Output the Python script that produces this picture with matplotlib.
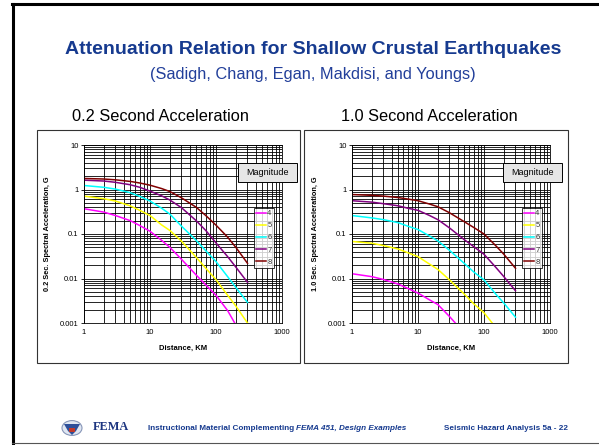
import numpy as np
import matplotlib
matplotlib.use("Agg")
import matplotlib.pyplot as plt
from matplotlib.patches import Rectangle, Circle, Polygon
from matplotlib.lines import Line2D
from matplotlib.ticker import LogLocator, FuncFormatter, NullFormatter

plt.rcParams['font.family'] = ['Liberation Sans', 'DejaVu Sans']

W, H = 599, 445

# distances (km) and spectral accelerations (g) per magnitude
distance = [1, 2, 3, 5, 7, 10, 15, 20, 30, 50, 70, 100, 150, 200, 300]
magnitudes = ['4', '5', '6', '7', '8']
colors = ['#ff00ff', '#ffff00', '#00ffff', '#800080', '#800000']

sa_02 = {
    '4': [0.37, 0.31, 0.26, 0.20, 0.155, 0.115, 0.072, 0.05, 0.027, 0.012, 0.0072, 0.0042, 0.0019, 0.0009, np.nan],
    '5': [0.71, 0.62, 0.55, 0.43, 0.34, 0.26, 0.16, 0.12, 0.069, 0.030, 0.017, 0.0094, 0.0042, 0.0024, 0.001],
    '6': [1.23, 1.12, 1.02, 0.85, 0.70, 0.55, 0.38, 0.28, 0.15, 0.072, 0.042, 0.024, 0.011, 0.0063, 0.0029],
    '7': [1.62, 1.55, 1.45, 1.28, 1.12, 0.92, 0.72, 0.58, 0.39, 0.20, 0.12, 0.063, 0.031, 0.018, 0.0082],
    '8': [1.77, 1.72, 1.65, 1.52, 1.40, 1.25, 1.05, 0.90, 0.65, 0.40, 0.26, 0.158, 0.085, 0.050, 0.022],
}
sa_10 = {
    '4': [0.0128, 0.011, 0.0095, 0.0075, 0.006, 0.0047, 0.0033, 0.0026, 0.0014, 0.0006, np.nan, np.nan, np.nan, np.nan, np.nan],
    '5': [0.068, 0.062, 0.055, 0.046, 0.038, 0.031, 0.021, 0.016, 0.0093, 0.0045, 0.0027, 0.0017, 0.0008, np.nan, np.nan],
    '6': [0.26, 0.23, 0.21, 0.18, 0.15, 0.126, 0.09, 0.07, 0.043, 0.022, 0.014, 0.0093, 0.0045, 0.0028, 0.00135],
    '7': [0.56, 0.52, 0.48, 0.43, 0.38, 0.34, 0.26, 0.21, 0.137, 0.075, 0.052, 0.035, 0.018, 0.011, 0.0053],
    '8': [0.77, 0.74, 0.71, 0.66, 0.61, 0.56, 0.47, 0.41, 0.30, 0.19, 0.14, 0.10, 0.055, 0.035, 0.017],
}


def px_rect(x0, y0, x1, y1):
    """ Pixel box (top-left origin) to figure fraction rect. """
    return [x0 / W, 1 - y1 / H, (x1 - x0) / W, (y1 - y0) / H]


def fx(x):
    return x / W


def fy(y):
    return 1 - y / H


def box(fig, x0, y0, x1, y1, **kw):
    fig.patches.append(Rectangle((fx(x0), fy(y1)), (x1 - x0) / W, (y1 - y0) / H,
                                 transform=fig.transFigure, **kw))


def draw_panel(fig, rect, data, ylabel, leg_xy, mag_box):
    ax = fig.add_axes(rect)
    for mag, col in zip(magnitudes, colors):
        ax.plot(distance, data[mag], color=col, lw=1.1, label=mag)
    ax.set_xscale('log')
    ax.set_yscale('log')
    ax.set_xlim(1, 1000)
    ax.set_ylim(0.001, 10)
    ax.xaxis.set_major_locator(LogLocator(base=10, numticks=10))
    ax.yaxis.set_major_locator(LogLocator(base=10, numticks=10))
    ax.xaxis.set_minor_locator(LogLocator(base=10, subs=np.arange(2, 10), numticks=10))
    ax.yaxis.set_minor_locator(LogLocator(base=10, subs=np.arange(2, 10), numticks=10))
    fmt = FuncFormatter(lambda v, p: f'{v:g}')
    ax.xaxis.set_major_formatter(fmt)
    ax.yaxis.set_major_formatter(fmt)
    ax.xaxis.set_minor_formatter(NullFormatter())
    ax.yaxis.set_minor_formatter(NullFormatter())
    ax.grid(True, which='both', color='black', lw=0.6)
    ax.set_axisbelow(True)
    ax.tick_params(which='both', labelsize=5.5, length=2, width=0.6, pad=2)
    ax.tick_params(which='minor', length=0)
    ax.tick_params(axis='x', length=0, pad=4)
    for s in ax.spines.values():
        s.set_linewidth(0.6)
    ax.set_xlabel('Distance, KM', fontsize=5.5, fontweight='bold', labelpad=7)
    ax.set_ylabel(ylabel, fontsize=5.3, fontweight='bold', labelpad=6)

    # magnitude caption box
    bx0, by0, bx1, by1 = mag_box
    box(fig, bx0, by0, bx1, by1, facecolor='#e6e6e6', edgecolor='black', lw=0.7, zorder=5)
    fig.text(fx((bx0 + bx1) / 2), fy((by0 + by1) / 2), 'Magnitude',
             ha='center', va='center', fontsize=6.5, zorder=6)

    leg = ax.legend(loc='upper left', bbox_to_anchor=(fx(leg_xy[0]), fy(leg_xy[1])),
                    bbox_transform=fig.transFigure, fontsize=5.5, frameon=True,
                    fancybox=False, edgecolor='black', handlelength=1.3,
                    handletextpad=0.2, borderpad=0.25, labelspacing=0.62,
                    borderaxespad=0, labelcolor='#333333')
    leg.get_frame().set_linewidth(0.7)
    return ax


fig = plt.figure(figsize=(W / 100, H / 100), dpi=100)

# slide frame
fig.add_artist(Line2D([fx(13), fx(13)], [fy(4), 0], transform=fig.transFigure, color='black', lw=2.2))
fig.add_artist(Line2D([fx(12), 1], [fy(4), fy(4)], transform=fig.transFigure, color='black', lw=2.2))
fig.add_artist(Line2D([fx(12), 1], [fy(443), fy(443)], transform=fig.transFigure, color='#555555', lw=0.8))

title_blue = '#163a8f'
fig.text(fx(313), fy(49), 'Attenuation Relation for Shallow Crustal Earthquakes',
         ha='center', va='center', fontsize=14, fontweight='bold', color=title_blue)
fig.text(fx(313), fy(75), '(Sadigh, Chang, Egan, Makdisi, and Youngs)',
         ha='center', va='center', fontsize=11.8, color='#223f9a')

# panel frames
box(fig, 37, 130, 300, 363, facecolor='none', edgecolor='#333333', lw=0.8)
box(fig, 304, 130, 568, 363, facecolor='none', edgecolor='#333333', lw=0.8)
fig.text(fx(161), fy(117), '0.2 Second Acceleration', ha='center', va='center', fontsize=11.8)
fig.text(fx(429), fy(117), '1.0 Second Acceleration', ha='center', va='center', fontsize=11.8)

draw_panel(fig, px_rect(84, 145, 282, 323), sa_02, '0.2 Sec. Spectral Acceleration, G',
           (254, 208), (238, 163, 297, 182))
draw_panel(fig, px_rect(352, 145, 550, 323), sa_10, '1.0 Sec. Spectral Acceleration, G',
           (522, 208), (503, 163, 562, 182))

# footer: seal, agency name, course line and slide number
seal = (72 / W, fy(428))
fig.patches.append(Circle(seal, 10 / W, transform=fig.transFigure,
                          facecolor='#dfe6f2', edgecolor='#8796b8', lw=0.8))
fig.patches.append(Polygon([(fx(64), fy(424)), (fx(80), fy(424)), (fx(76), fy(431)),
                            (fx(72), fy(435)), (fx(68), fy(431))], closed=True,
                           transform=fig.transFigure, facecolor='#2d4f9a', edgecolor='none'))
fig.patches.append(Rectangle((fx(69), fy(432)), 6 / W, 4 / H, transform=fig.transFigure,
                             facecolor='#c0392b', edgecolor='none'))
fig.text(fx(93), fy(427), 'FEMA', ha='left', va='center', fontsize=8.8,
         fontweight='bold', family='Liberation Serif', color='#1d3580')
part1 = fig.text(fx(148), fy(429), 'Instructional Material Complementing', ha='left',
                 va='center', fontsize=5.9, fontweight='bold', color=title_blue)
renderer = fig.canvas.get_renderer()
x_end = part1.get_window_extent(renderer).x1 + 2
fig.text(x_end / W, fy(429), 'FEMA 451, Design Examples', ha='left', va='center',
         fontsize=5.9, fontweight='bold', style='italic', color=title_blue)
fig.text(fx(568), fy(429), 'Seismic Hazard Analysis 5a - 22', ha='right', va='center',
         fontsize=5.9, fontweight='bold', color=title_blue)

fig.savefig('out.png', dpi=100)
